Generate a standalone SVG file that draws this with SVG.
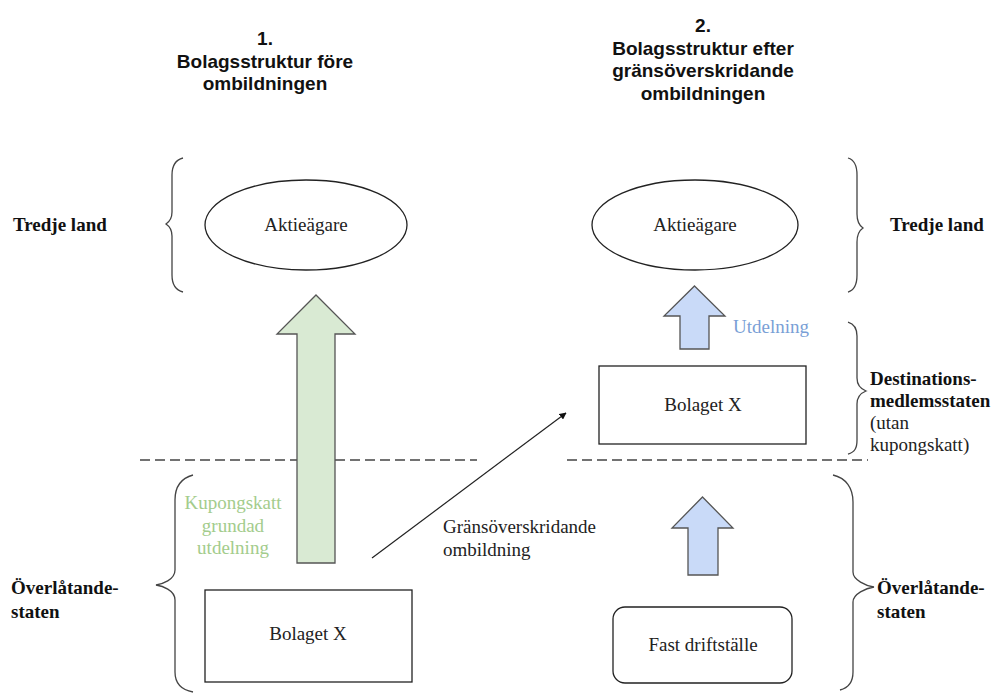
<svg xmlns="http://www.w3.org/2000/svg" width="992" height="693" viewBox="0 0 992 693">
<defs>
<style>
.title{font-family:"Liberation Sans",Arial,sans-serif;font-weight:bold;font-size:19px;fill:#111;text-anchor:middle}
.t{font-family:"Liberation Serif","Times New Roman",serif;font-size:19px;fill:#222}
.b{font-family:"Liberation Serif","Times New Roman",serif;font-size:19px;font-weight:bold;fill:#111}
.mid{text-anchor:middle}
.shape{fill:#fff;stroke:#222;stroke-width:1.3}
.brace{fill:none;stroke:#444;stroke-width:1.3}
.dash{stroke:#444;stroke-width:1.3;stroke-dasharray:10,5;fill:none}
.green{fill:#d9ead3;stroke:#555;stroke-width:1.3}
.blue{fill:#c9daf8;stroke:#555;stroke-width:1.3}
</style>
<marker id="ah" viewBox="0 0 10 10" refX="9" refY="5" markerWidth="7" markerHeight="7" orient="auto" markerUnits="userSpaceOnUse">
<path d="M0,0 L10,5 L0,10 Z" fill="#111"/>
</marker>
</defs>
<rect width="992" height="693" fill="#fff"/>

<g id="title1">
<text class="title" x="265" y="45">1.</text>
<text class="title" x="265" y="68">Bolagsstruktur före</text>
<text class="title" x="265" y="90">ombildningen</text>
</g>
<g id="title2">
<text class="title" x="703" y="32">2.</text>
<text class="title" x="703" y="55">Bolagsstruktur efter</text>
<text class="title" x="703" y="77">gränsöverskridande</text>
<text class="title" x="703" y="100">ombildningen</text>
</g>

<g id="dividers">
<line class="dash" x1="140" y1="460" x2="477" y2="460"/>
<line class="dash" x1="567" y1="460" x2="868" y2="460"/>
</g>

<g id="braces">
<path class="brace" d="M183,158 C175,160 172,166 172,175 L172,212 C172,219 169,222 166,224 C169,226 172,229 172,236 L172,275 C172,284 175,290 183,292"/>
<path class="brace" d="M193,475 C182,478 175,486 175,500 L175,570 C175,580 162,584 156,585 C162,586 175,590 175,600 L175,672 C175,684 182,690 193,692"/>
<path class="brace" d="M848,158 C855,160 857,166 857,175 L857,214 C857,222 860,226 863,228 C860,230 857,234 857,242 L857,275 C857,284 855,290 848,292"/>
<path class="brace" d="M848,322 C855,324 857,329 857,336 L857,378 C857,385 861,389 866,391 C861,393 857,397 857,404 L857,440 C857,448 855,452 848,454"/>
<path class="brace" d="M833,475 C846,478 853,488 853,502 L853,572 C853,580 866,586 874,587 C866,588 853,594 853,602 L853,672 C853,682 848,688 840,690"/>
</g>

<g id="labels">
<text class="b" x="13" y="231">Tredje land</text>
<text class="b" x="890" y="231">Tredje land</text>
<text class="b" x="11" y="594">Överlåtande-</text>
<text class="b" x="11" y="618">staten</text>
<text class="b" x="877" y="594">Överlåtande-</text>
<text class="b" x="877" y="618">staten</text>
<text class="b" x="870" y="385">Destinations-</text>
<text class="b" x="870" y="407">medlemsstaten</text>
<text class="t" x="870" y="429">(utan</text>
<text class="t" x="870" y="451">kupongskatt)</text>
</g>

<g id="aktieagare-1">
<ellipse class="shape" cx="306" cy="225" rx="101" ry="45"/>
<text class="t mid" x="306" y="231">Aktieägare</text>
</g>
<g id="aktieagare-2">
<ellipse class="shape" cx="695" cy="225" rx="103" ry="45"/>
<text class="t mid" x="695" y="231">Aktieägare</text>
</g>
<g id="bolaget-1">
<rect class="shape" x="205" y="590" width="207" height="92"/>
<text class="t mid" x="308" y="640">Bolaget X</text>
</g>
<g id="bolaget-2">
<rect class="shape" x="599" y="366" width="207" height="78"/>
<text class="t mid" x="703" y="411">Bolaget X</text>
</g>
<g id="fast-driftstalle">
<rect class="shape" x="613" y="607" width="179" height="76" rx="12" ry="12"/>
<text class="t mid" x="703" y="651">Fast driftställe</text>
</g>

<g id="connectors">
<polygon class="green" points="316,295 355,334 335,334 335,563 297,563 297,334 277,334"/>
<polygon class="blue" points="694.5,286 725,316 709,316 709,349 680,349 680,316 664,316"/>
<polygon class="blue" points="702.5,497 733,528 718,528 718,575 688,575 688,528 672,528"/>
<line x1="372" y1="558" x2="566" y2="413" stroke="#222" stroke-width="1.2" marker-end="url(#ah)"/>
</g>

<g id="connector-labels">
<text class="t mid" x="233" y="509" fill="#a3cc8c" style="fill:#a3cc8c">Kupongskatt</text>
<text class="t mid" x="233" y="532" style="fill:#a3cc8c">grundad</text>
<text class="t mid" x="233" y="554" style="fill:#a3cc8c">utdelning</text>
<text class="t" x="733" y="333" style="fill:#7a9fd6">Utdelning</text>
<text class="t" x="443" y="533">Gränsöverskridande</text>
<text class="t" x="443" y="556">ombildning</text>
</g>
</svg>
